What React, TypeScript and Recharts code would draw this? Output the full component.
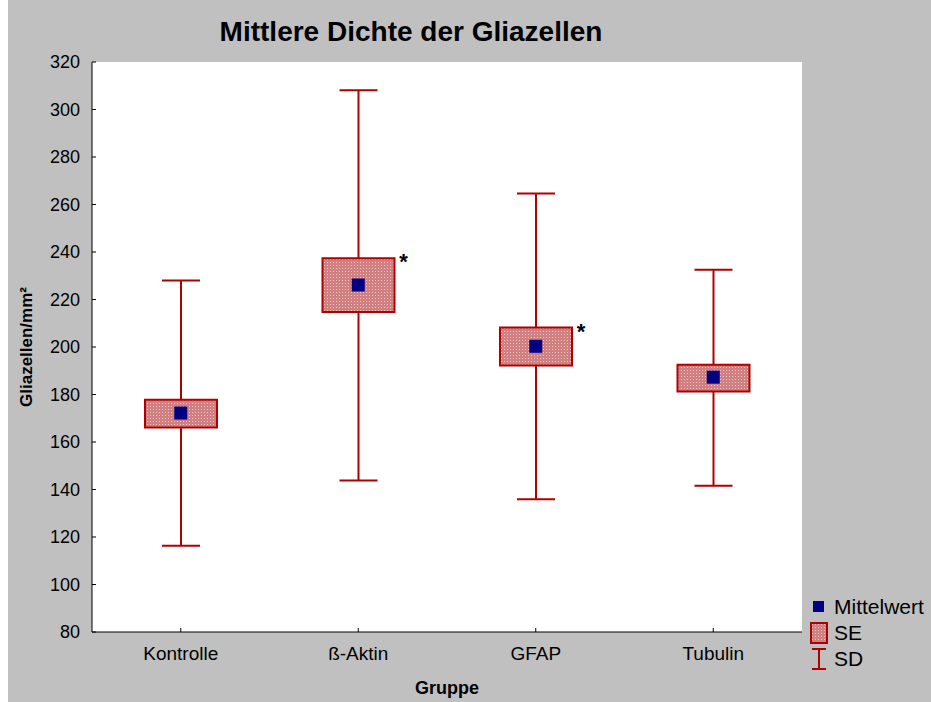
import React from "react"
import {
  ComposedChart,
  Bar,
  Scatter,
  XAxis,
  YAxis,
  CartesianGrid,
  LabelList,
} from "recharts"

// values
const groups = ["Kontrolle", "ß-Aktin", "GFAP", "Tubulin"]
const means = [172.2, 226.1, 200.3, 187.3]
const seLow = [166.1, 214.7, 192.2, 181.3]
const seHigh = [177.8, 237.4, 208.2, 192.5]
const sdLow = [116.3, 143.8, 135.9, 141.6]
const sdHigh = [228.0, 308.1, 264.6, 232.5]
const stars = ["", "*", "*", ""]
const yTicks = [80, 100, 120, 140, 160, 180, 200, 220, 240, 260, 280, 300, 320]

const data = groups.map((g, i) => ({
  name: g,
  mean: means[i],
  se: [seLow[i], seHigh[i]],
  sd: [sdLow[i], sdHigh[i]],
  star: stars[i],
}))

const FONT = "'Liberation Sans', Arial, sans-serif"
const RED = "#b00000"
const NAVY = "#000080"

const Whisker = (props: any) => {
  const { x, y, width, height } = props
  const cx = x + width / 2
  return (
    <g stroke={RED} strokeWidth={2}>
      <line x1={cx} x2={cx} y1={y} y2={y + height} />
      <line x1={x} x2={x + width} y1={y} y2={y} />
      <line x1={x} x2={x + width} y1={y + height} y2={y + height} />
    </g>
  )
}

const MeanSquare = (props: any) => {
  const { cx, cy } = props
  return <rect x={cx - 6.5} y={cy - 6.5} width={13} height={13} fill={NAVY} />
}

const Star = (props: any) => {
  const { x, y, width, value } = props
  if (!value) return null
  return (
    <text
      x={x + width + 9}
      y={y + 11}
      textAnchor="middle"
      fontSize={22}
      fontWeight="bold"
      fontFamily={FONT}
      fill="#000"
    >
      {value}
    </text>
  )
}

const PatternDefs = ({ id }: { id: string }) => (
  <defs>
    <pattern id={id} width={3} height={3} patternUnits="userSpaceOnUse">
      <rect width={3} height={3} fill="#d08080" />
      <rect x={1} y={1} width={1} height={1} fill="#f2c4c4" />
    </pattern>
  </defs>
)

export default function App() {
  return (
    <div
      style={{
        position: "absolute",
        left: 8,
        top: 0,
        width: 923,
        height: 702,
        background: "#c0c0c0",
        fontFamily: FONT,
      }}
    >
      <div
        style={{
          position: "absolute",
          left: 0,
          width: 806,
          top: 16,
          textAlign: "center",
          fontSize: 28,
          fontWeight: "bold",
          color: "#000",
          whiteSpace: "nowrap",
        }}
      >
        Mittlere Dichte der Gliazellen
      </div>
      <div
        style={{
          position: "absolute",
          left: 19,
          top: 347,
          transform: "translate(-50%, -50%) rotate(-90deg)",
          fontSize: 17,
          fontWeight: "bold",
          whiteSpace: "nowrap",
        }}
      >
        Gliazellen/mm²
      </div>
      <div
        style={{
          position: "absolute",
          left: 0,
          width: 878,
          top: 678,
          textAlign: "center",
          fontSize: 18,
          fontWeight: "bold",
        }}
      >
        Gruppe
      </div>

      <ComposedChart
        width={923}
        height={702}
        data={data}
        margin={{ top: 62, right: 129, bottom: 30, left: 24 }}
      >
        <PatternDefs id="sePattern" />
        <CartesianGrid horizontal={false} vertical={false} fill="#ffffff" />
        <XAxis
          dataKey="name"
          xAxisId="main"
          height={40}
          tickSize={-4}
          tickMargin={19}
          stroke="#000"
          tick={{ fill: "#000", fontSize: 19, fontFamily: FONT }}
        />
        <XAxis dataKey="name" xAxisId="sd" hide />
        <XAxis
          dataKey="name"
          xAxisId="top"
          orientation="top"
          height={0}
          tick={false}
          tickLine={false}
          stroke="#000"
        />
        <YAxis
          yAxisId="left"
          domain={[80, 320]}
          ticks={yTicks}
          width={60}
          tickSize={-4}
          tickMargin={16}
          stroke="#000"
          interval={0}
          tick={{ fill: "#000", fontSize: 18, fontFamily: FONT }}
        />
        <YAxis
          yAxisId="right"
          orientation="right"
          domain={[80, 320]}
          width={0}
          tick={false}
          tickLine={false}
          stroke="#000"
        />
        <Bar
          dataKey="sd"
          xAxisId="sd"
          yAxisId="left"
          barSize={38}
          shape={Whisker}
          isAnimationActive={false}
        />
        <Bar
          dataKey="se"
          xAxisId="main"
          yAxisId="left"
          barSize={72}
          fill="url(#sePattern)"
          stroke={RED}
          strokeWidth={2}
          isAnimationActive={false}
        >
          <LabelList dataKey="star" content={Star} />
        </Bar>
        <Scatter
          dataKey="mean"
          xAxisId="main"
          yAxisId="left"
          shape={MeanSquare}
          isAnimationActive={false}
        />
      </ComposedChart>

      <div
        style={{
          position: "absolute",
          left: 800,
          top: 594,
          fontSize: 21,
          lineHeight: "26px",
          color: "#000",
        }}
      >
        <div style={{ display: "flex", alignItems: "center" }}>
          <svg width={26} height={26}>
            <rect x={5} y={7} width={11} height={11} fill={NAVY} />
          </svg>
          <span>Mittelwert</span>
        </div>
        <div style={{ display: "flex", alignItems: "center" }}>
          <svg width={26} height={26}>
            <PatternDefs id="legendPattern" />
            <rect
              x={3}
              y={3}
              width={16}
              height={20}
              fill="url(#legendPattern)"
              stroke={RED}
              strokeWidth={2}
            />
          </svg>
          <span>SE</span>
        </div>
        <div style={{ display: "flex", alignItems: "center" }}>
          <svg width={26} height={26}>
            <g stroke={RED} strokeWidth={2}>
              <line x1={11} x2={11} y1={3} y2={23} />
              <line x1={4} x2={18} y1={3} y2={3} />
              <line x1={4} x2={18} y1={23} y2={23} />
            </g>
          </svg>
          <span>SD</span>
        </div>
      </div>
    </div>
  )
}
